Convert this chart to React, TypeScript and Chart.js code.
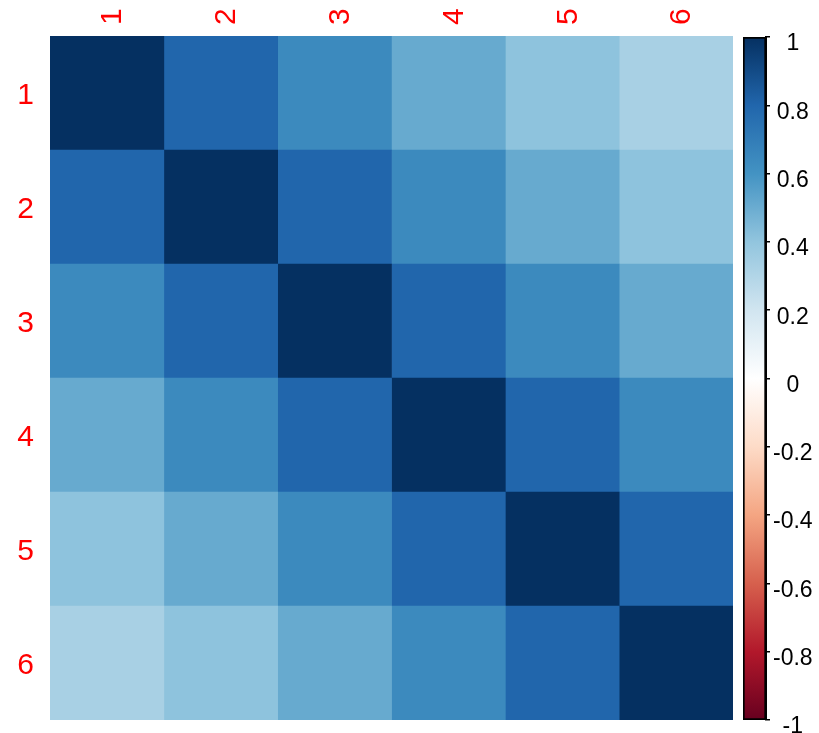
import React, { useEffect, useRef } from "react";
import { Chart, registerables } from "chart.js";

Chart.register(...registerables);

// Variable names shown along both axes
const VARIABLES = ["1", "2", "3", "4", "5", "6"];

// Correlation matrix, one row per variable
const ROW_1 = [1, 0.8, 0.64, 0.51, 0.41, 0.33];
const ROW_2 = [0.8, 1, 0.8, 0.64, 0.51, 0.41];
const ROW_3 = [0.64, 0.8, 1, 0.8, 0.64, 0.51];
const ROW_4 = [0.51, 0.64, 0.8, 1, 0.8, 0.64];
const ROW_5 = [0.41, 0.51, 0.64, 0.8, 1, 0.8];
const ROW_6 = [0.33, 0.41, 0.51, 0.64, 0.8, 1];
const MATRIX = [ROW_1, ROW_2, ROW_3, ROW_4, ROW_5, ROW_6];

// Colour legend ticks
const LEGEND_TICKS = [1, 0.8, 0.6, 0.4, 0.2, 0, -0.2, -0.4, -0.6, -0.8, -1];

// Diverging red-white-blue palette, from -1 up to 1
const PALETTE = [
  "#67001F", "#B2182B", "#D6604D", "#F4A582", "#FDDBC7", "#FFFFFF",
  "#D1E5F0", "#92C5DE", "#4393C3", "#2166AC", "#053061",
];

const FONT_FAMILY = '"Liberation Sans", Arial, Helvetica, sans-serif';

function hexToRgb(hex: string): number[] {
  const n = parseInt(hex.slice(1), 16);
  return [(n >> 16) & 255, (n >> 8) & 255, n & 255];
}

function colorFor(v: number): string {
  const pos = ((v + 1) / 2) * (PALETTE.length - 1);
  const i = Math.min(PALETTE.length - 2, Math.max(0, Math.floor(pos)));
  const t = pos - i;
  const a = hexToRgb(PALETTE[i]);
  const b = hexToRgb(PALETTE[i + 1]);
  const c = a.map((x, k) => Math.round(x + (b[k] - x) * t));
  return `rgb(${c[0]}, ${c[1]}, ${c[2]})`;
}

function formatTick(v: number): string {
  return String(Number(v.toFixed(1)));
}

export default function App() {
  const heatRef = useRef<HTMLCanvasElement>(null);
  const barRef = useRef<HTMLCanvasElement>(null);

  useEffect(() => {
    if (!heatRef.current || !barRef.current) return;

    // Heatmap: each column is one stacked segment of width 1 on a 0..6 scale
    const datasets = VARIABLES.map((name, j) => ({
      label: name,
      data: VARIABLES.map(() => 1),
      backgroundColor: MATRIX.map((row) => colorFor(row[j])),
      borderWidth: 0,
      barPercentage: 1,
      categoryPercentage: 1,
      stack: "cells",
    }));

    const heat = new Chart(heatRef.current, {
      type: "bar",
      data: { labels: VARIABLES, datasets },
      options: {
        indexAxis: "y",
        responsive: false,
        animation: false,
        layout: { padding: 0 },
        plugins: { legend: { display: false }, tooltip: { enabled: false } },
        scales: {
          x: { type: "linear", stacked: true, min: 0, max: 6, display: false },
          y: {
            type: "category",
            stacked: true,
            offset: true,
            grid: { display: false, drawTicks: false },
            border: { display: false },
            ticks: {
              color: "#FF0000",
              padding: 16,
              labelOffset: 3,
              font: { family: FONT_FAMILY, size: 30 },
            },
            afterFit: (s: any) => {
              s.width = 50;
              s.paddingTop = 0;
              s.paddingBottom = 0;
            },
          },
          xTop: {
            type: "category",
            axis: "x",
            position: "top",
            labels: VARIABLES,
            offset: true,
            grid: { display: false, drawTicks: false },
            border: { display: false },
            ticks: {
              color: "#FF0000",
              padding: 11,
              labelOffset: 42,
              minRotation: 90,
              maxRotation: 90,
              font: { family: FONT_FAMILY, size: 30 },
            },
            afterFit: (s: any) => {
              s.height = 36;
              s.paddingLeft = 0;
              s.paddingRight = 0;
            },
          },
        },
      },
    } as any);

    // Colour legend: one floating bar spanning -1..1 filled with the palette
    const bar = new Chart(barRef.current, {
      type: "bar",
      data: {
        labels: [""],
        datasets: [
          {
            data: [[-1, 1]],
            backgroundColor: (c: any) => {
              const area = c.chart.chartArea;
              if (!area) return PALETTE[5];
              const g = c.chart.ctx.createLinearGradient(0, area.bottom, 0, area.top);
              PALETTE.forEach((col, i) => g.addColorStop(i / (PALETTE.length - 1), col));
              return g;
            },
            borderColor: "#000000",
            borderWidth: 2,
            borderSkipped: false,
            barPercentage: 1,
            categoryPercentage: 1,
          },
        ],
      },
      options: {
        responsive: false,
        animation: false,
        layout: { padding: { left: 8, top: 37, bottom: 13, right: 0 } },
        plugins: { legend: { display: false }, tooltip: { enabled: false } },
        scales: {
          x: { display: false },
          y: {
            type: "linear",
            position: "right",
            min: -1,
            max: 1,
            afterBuildTicks: (s: any) => {
              s.ticks = LEGEND_TICKS.map((v) => ({ value: v }));
            },
            grid: {
              drawOnChartArea: false,
              drawTicks: true,
              tickLength: 4,
              color: "#000000",
              lineWidth: 1.5,
            },
            border: { display: true, color: "#000000", width: 2 },
            ticks: {
              color: "#000000",
              crossAlign: "center",
              padding: 3,
              labelOffset: 7,
              font: { family: FONT_FAMILY, size: 23 },
              callback: (v: any) => formatTick(Number(v)),
            },
            afterFit: (s: any) => {
              s.width = 53;
              s.paddingTop = 0;
              s.paddingBottom = 0;
            },
          },
        },
      },
    } as any);

    return () => {
      heat.destroy();
      bar.destroy();
    };
  }, []);

  return (
    <div
      style={{
        position: "fixed",
        left: 0,
        top: 0,
        width: 819,
        height: 733,
        background: "#ffffff",
      }}
    >
      <canvas
        ref={heatRef}
        width={733}
        height={720}
        style={{ position: "absolute", left: 0, top: 0, width: 733, height: 720 }}
      />
      <canvas
        ref={barRef}
        width={84}
        height={733}
        style={{ position: "absolute", left: 735, top: 0, width: 84, height: 733 }}
      />
    </div>
  );
}
